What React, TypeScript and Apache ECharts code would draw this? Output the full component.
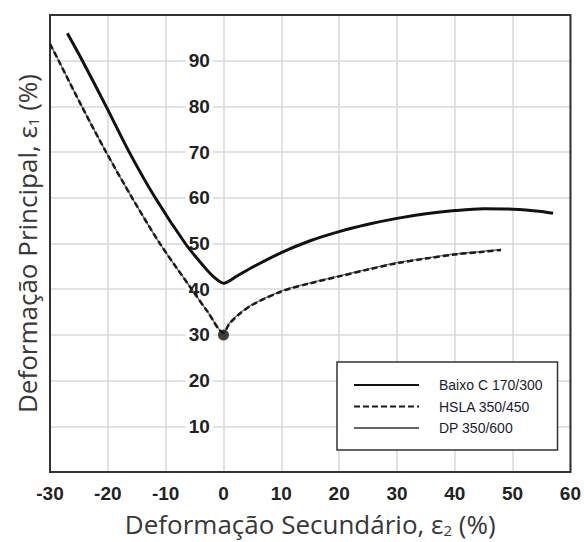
import React, { useEffect, useRef } from "react";
import * as echarts from "echarts";

const xTicks = [-30, -20, -10, 0, 10, 20, 30, 40, 50, 60];
const yTickLabels = ["10", "20", "30", "40", "50", "60", "70", "80", "90"];

const seriesNames = ["Baixo C 170/300", "HSLA 350/450", "DP 350/600"];

const baixoX = [-27, -24.4, -20.3, -16.3, -11.8, -6.6, -3.4, -1.6, 0, 2.5, 5, 10, 15, 20, 25, 30, 35, 40, 45, 50, 55, 57];
const baixoY = [96, 90, 80, 70, 60, 50, 45, 42.6, 41.3, 43.0, 44.8, 48.0, 50.6, 52.6, 54.2, 55.5, 56.5, 57.2, 57.6, 57.5, 57.0, 56.6];

const hslaX = [-30, -28.5, -24.5, -20.3, -15.8, -11, -5.5, -2.7, 0, 1, 2.5, 5, 10, 15, 20, 25, 30, 35, 40, 45, 48];
const hslaY = [93.7, 90, 80, 70, 60, 50, 40, 35, 30.5, 32.4, 34.3, 36.6, 39.5, 41.3, 42.8, 44.3, 45.7, 46.7, 47.6, 48.2, 48.6];

const dpX = [-30, -28.5, -24.5, -20.3, -15.8, -11, -5.5, -2.7, 0, 1, 2.5, 5, 10, 15, 20, 25, 30, 35, 40, 45, 48];
const dpY = [93.7, 90, 80, 70, 60, 50, 40, 35, 30.5, 32.5, 34.4, 36.7, 39.6, 41.4, 42.9, 44.4, 45.8, 46.8, 47.7, 48.3, 48.7];

const originPoint = [0, 30];

const zip = (xs: number[], ys: number[]) => xs.map((x, i) => [x, ys[i]]);

const tickFont = "'Liberation Sans', Arial, sans-serif";
const titleFont = "'Open Sans', 'Noto Sans', sans-serif";

const GRID_LEFT = 50;
const GRID_RIGHT = 11;
const CHART_W = 584;

export default function App() {
  const ref = useRef<HTMLDivElement>(null);
  useEffect(() => {
    if (!ref.current) return;
    const chart = echarts.init(ref.current, null, { renderer: "svg" });
    const plotW = CHART_W - GRID_LEFT - GRID_RIGHT;
    const xMin = xTicks[0];
    const xMax = xTicks[xTicks.length - 1];
    // distance from right edge of plot to x = 0
    const zeroFromRight = (plotW * (xMax - 0)) / (xMax - xMin);
    chart.setOption({
      animation: false,
      backgroundColor: "#fff",
      grid: {
        left: GRID_LEFT,
        right: GRID_RIGHT,
        top: 15,
        bottom: 69,
        show: true,
        borderColor: "#333",
        borderWidth: 2,
        backgroundColor: "transparent",
        z: 1,
      },
      legend: {
        orient: "vertical",
        left: 337,
        top: 362,
        padding: [16, 15, 15, 16],
        itemWidth: 65,
        itemHeight: 14,
        itemGap: 7.5,
        borderColor: "#333",
        borderWidth: 1.5,
        backgroundColor: "#fff",
        itemStyle: { opacity: 0 },
        textStyle: {
          fontFamily: "'Liberation Sans', Arial, sans-serif",
          fontSize: 14,
          color: "#1c1c30",
          padding: [0, 0, 0, 15],
        },
        data: seriesNames,
      },
      xAxis: {
        type: "value",
        min: xMin,
        max: xMax,
        interval: 10,
        axisLine: { show: false, onZero: false },
        axisTick: { show: false },
        splitLine: { show: true, lineStyle: { color: "#d9d9d9", width: 1.5 } },
        axisLabel: {
          margin: 12,
          fontFamily: tickFont,
          fontWeight: "bold",
          fontSize: 19,
          color: "#222",
        },
        name: "Deformação Secundário, ε{sub|2} (%)",
        nameLocation: "middle",
        nameGap: 39,
        nameTextStyle: {
          fontFamily: titleFont,
          fontSize: 26,
          color: "#383838",
          rich: {
            sub: { fontFamily: titleFont, fontSize: 15, color: "#383838", verticalAlign: "bottom" },
          },
        },
      },
      yAxis: [
        {
          type: "value",
          position: "left",
          min: 0,
          max: 100,
          interval: 10,
          axisLine: { show: false, onZero: false },
          axisTick: { show: false },
          axisLabel: { show: false },
          splitLine: { show: true, lineStyle: { color: "#d9d9d9", width: 1.5 } },
          name: "Deformação Principal, ε{sub|1} (%)",
          nameLocation: "middle",
          nameGap: 10,
          nameTextStyle: {
            fontFamily: titleFont,
            fontSize: 26,
            color: "#383838",
            rich: {
              sub: { fontFamily: titleFont, fontSize: 15, color: "#383838", verticalAlign: "bottom" },
            },
          },
        },
        {
          type: "value",
          position: "right",
          offset: -zeroFromRight,
          min: 0,
          max: 100,
          interval: 10,
          z: 1,
          axisLine: { show: false, onZero: false },
          axisTick: { show: false },
          splitLine: { show: false },
          axisLabel: {
            inside: true,
            margin: 9,
            showMinLabel: false,
            showMaxLabel: false,
            fontFamily: tickFont,
            fontWeight: "bold",
            fontSize: 19,
            color: "#222",
            backgroundColor: "#fff",
            padding: [1, 3],
            formatter: (v: number) => (yTickLabels.includes(String(v)) ? String(v) : ""),
          },
        },
      ],
      series: [
        {
          name: seriesNames[2],
          type: "line",
          yAxisIndex: 0,
          data: zip(dpX, dpY),
          symbol: "none",
          smooth: 0.3,
          lineStyle: { color: "#666", width: 1.3 },
          itemStyle: { color: "#666" },
          z: 2,
        },
        {
          name: seriesNames[1],
          type: "line",
          yAxisIndex: 0,
          data: zip(hslaX, hslaY),
          symbol: "none",
          smooth: 0.3,
          lineStyle: { color: "#1a1a1a", width: 2.5, type: [6, 3] },
          itemStyle: { color: "#1a1a1a" },
          z: 3,
        },
        {
          name: seriesNames[0],
          type: "line",
          yAxisIndex: 0,
          data: zip(baixoX, baixoY),
          symbol: "none",
          smooth: 0.3,
          lineStyle: { color: "#111", width: 3 },
          itemStyle: { color: "#111" },
          z: 4,
        },
        {
          name: "origem",
          type: "scatter",
          yAxisIndex: 0,
          data: [originPoint],
          symbol: "circle",
          symbolSize: 11,
          itemStyle: { color: "#111" },
          z: 5,
        },
      ],
    });
    return () => chart.dispose();
  }, []);
  return (
    <div
      ref={ref}
      style={{ position: "absolute", left: 0, top: 0, width: CHART_W, height: 542 }}
    />
  );
}
